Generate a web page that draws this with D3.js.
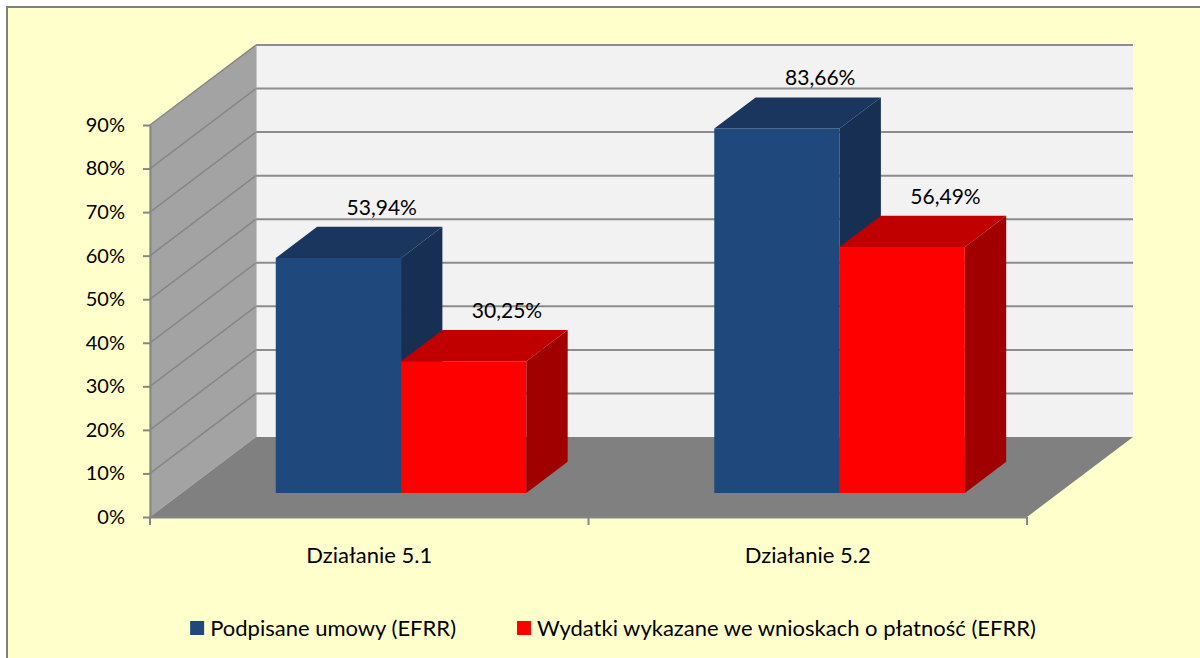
<!DOCTYPE html>
<html>
<head>
<meta charset="utf-8">
<script src="https://cdn.jsdelivr.net/npm/d3@7/dist/d3.min.js"></script>
<style>
  html, body { margin: 0; padding: 0; background: #ffffff; }
  svg { display: block; }
  text { font-family: Lato, "Open Sans", sans-serif; fill: #000; }
</style>
</head>
<body>
<svg id="chart" width="1200" height="658"></svg>
<script>
// Chart data
const categories = ["Działanie 5.1", "Działanie 5.2"];
const seriesNames = ["Podpisane umowy (EFRR)", "Wydatki wykazane we wnioskach o płatność (EFRR)"];
const signedContracts = [53.94, 83.66];   // Podpisane umowy (EFRR), %
const paymentClaims = [30.25, 56.49];     // Wydatki wykazane we wnioskach o płatność (EFRR), %
const yTicks = [0, 10, 20, 30, 40, 50, 60, 70, 80, 90];

const seriesValues = [signedContracts, paymentClaims];
const palette = [
  { front: "#1F497D", top: "#1A365E", side: "#162F53" },
  { front: "#FF0000", top: "#C00000", side: "#A00000" }
];

(function () {
const svg = d3.select("#chart");
const W = 1200, H = 658;

// Plot frame (front plane) and 3D depth
const plotLeft = 150, plotRight = 1027, plotBottom = 517, plotTop = 125;
const DX = 106, DY = -80;          // full depth offset
const F0 = 0.30, F1 = 0.69;        // bar depth span
const P = (x, yy, f) => [x + DX * f, yy + DY * f];

const x0 = d3.scaleBand().domain(categories).range([plotLeft, plotRight]).paddingInner(0).paddingOuter(0);
const barW = x0.bandwidth() / 3.5;
const x1 = d3.scaleBand().domain(d3.range(seriesValues.length)).range([0, barW * seriesValues.length]);
const groupOff = (x0.bandwidth() - barW * seriesValues.length) / 2;
const y = d3.scaleLinear().domain([0, 90]).range([plotBottom, plotTop]);

const locale = d3.formatLocale({ decimal: ",", thousands: " ", grouping: [3], currency: ["", " zł"] });
const fmt2 = locale.format(".2f");

// Background panel
svg.append("rect").attr("x", 0).attr("y", 0).attr("width", W).attr("height", H).attr("fill", "#ffffff");
svg.append("rect")
  .attr("x", 7).attr("y", 7).attr("width", W + 20).attr("height", H + 20)
  .attr("fill", "#FFFFCC").attr("stroke", "#808080").attr("stroke-width", 2);

const poly = pts => "M" + pts.map(p => p.join(",")).join("L") + "Z";

// Walls and floor
const yMax = y(90), yMin = y(0);
svg.append("path")
  .attr("d", poly([P(plotLeft, yMax, 0), P(plotLeft, yMax, 1), P(plotLeft, yMin, 1), P(plotLeft, yMin, 0)]))
  .attr("fill", "#A3A3A3").attr("stroke", "#B5B5B5").attr("stroke-width", 1);
svg.append("path")
  .attr("d", poly([P(plotLeft, yMax, 1), P(plotRight, yMax, 1), P(plotRight, yMin, 1), P(plotLeft, yMin, 1)]))
  .attr("fill", "#F2F2F2");
svg.append("path")
  .attr("d", poly([P(plotLeft, yMin, 0), P(plotRight, yMin, 0), P(plotRight, yMin, 1), P(plotLeft, yMin, 1)]))
  .attr("fill", "#808080");

// Gridlines on back wall and side wall
const grid = svg.append("g");
yTicks.filter(t => t > 0).forEach(t => {
  const a = P(plotLeft, y(t), 1), b = P(plotRight, y(t), 1), c = P(plotLeft, y(t), 0);
  grid.append("line").attr("x1", a[0]).attr("y1", a[1]).attr("x2", b[0]).attr("y2", b[1])
    .attr("stroke", "#8C8C8C").attr("stroke-width", 2);
  grid.append("line").attr("x1", c[0]).attr("y1", c[1]).attr("x2", a[0]).attr("y2", a[1])
    .attr("stroke", "#868686").attr("stroke-width", 1.5);
});
// back wall left edge
{
  const a = P(plotLeft, yMax, 1), b = P(plotLeft, yMin, 1);
  grid.append("line").attr("x1", a[0]).attr("y1", a[1]).attr("x2", b[0]).attr("y2", b[1])
    .attr("stroke", "#9A9A9A").attr("stroke-width", 1);
}

// Bars
const bars = [];
categories.forEach((c, ci) => {
  seriesValues.forEach((vals, si) => {
    bars.push({ c, si, v: vals[ci] });
  });
});
const barG = svg.append("g");
bars.forEach(d => {
  const xa = x0(d.c) + groupOff + x1(d.si), xb = xa + barW;
  const yt = y(d.v), yb = y(0);
  const col = palette[d.si];
  barG.append("path").attr("d", poly([P(xa, yt, F0), P(xb, yt, F0), P(xb, yb, F0), P(xa, yb, F0)]))
    .attr("fill", col.front);
  barG.append("path").attr("d", poly([P(xa, yt, F0), P(xb, yt, F0), P(xb, yt, F1), P(xa, yt, F1)]))
    .attr("fill", col.top);
  barG.append("path").attr("d", poly([P(xb, yt, F0), P(xb, yt, F1), P(xb, yb, F1), P(xb, yb, F0)]))
    .attr("fill", col.side);
});

// Data labels above each bar
const labG = svg.append("g");
bars.forEach(d => {
  const xa = x0(d.c) + groupOff + x1(d.si);
  const pt = P(xa + barW / 2, y(d.v), F1);
  labG.append("text")
    .attr("x", pt[0] + 2).attr("y", pt[1] - 12)
    .attr("text-anchor", "middle").attr("font-size", 21)
    .text(fmt2(d.v) + "%");
});

// Y axis
const yAxis = svg.append("g").attr("transform", `translate(${plotLeft},0)`)
  .call(d3.axisLeft(y).tickValues(yTicks).tickSize(7).tickSizeOuter(0).tickPadding(18)
    .tickFormat(d => d + "%"));
yAxis.select(".domain").attr("stroke", "#868686").attr("stroke-width", 2);
yAxis.selectAll(".tick line").attr("stroke", "#868686").attr("stroke-width", 2);
yAxis.selectAll(".tick text").attr("font-size", 20).attr("font-family", "Lato, sans-serif").attr("fill", "#000");

// X axis
const xAxis = svg.append("g").attr("transform", `translate(0,${plotBottom})`)
  .call(d3.axisBottom(x0).tickSize(0).tickSizeOuter(0).tickPadding(30));
xAxis.select(".domain").attr("stroke", "#868686").attr("stroke-width", 2);
xAxis.selectAll(".tick text").attr("font-size", 22).attr("font-family", "Lato, sans-serif").attr("fill", "#000");
const bounds = [x0.range()[0]].concat(categories.map(c => x0(c) + x0.bandwidth()));
xAxis.selectAll(".bound").data(bounds).join("line").attr("class", "bound")
  .attr("x1", d => d).attr("x2", d => d).attr("y1", 0).attr("y2", 8)
  .attr("stroke", "#868686").attr("stroke-width", 2);

// Legend
const legend = svg.append("g");
const sw = 14, gapT = 6, gapItem = 61, legendBase = 636, legendCenter = 613;
const items = seriesNames.map((name, i) => {
  const g = legend.append("g");
  g.append("rect").attr("x", 0).attr("y", legendBase - 15).attr("width", sw).attr("height", sw)
    .attr("fill", palette[i].front);
  const t = g.append("text").attr("x", sw + gapT).attr("y", legendBase).attr("font-size", 22).text(name);
  return { g, w: sw + gapT + t.node().getComputedTextLength() };
});
const total = d3.sum(items, d => d.w) + gapItem * (items.length - 1);
let cx = legendCenter - total / 2;
items.forEach(it => { it.g.attr("transform", `translate(${cx},0)`); cx += it.w + gapItem; });
})();
</script>
</body>
</html>
